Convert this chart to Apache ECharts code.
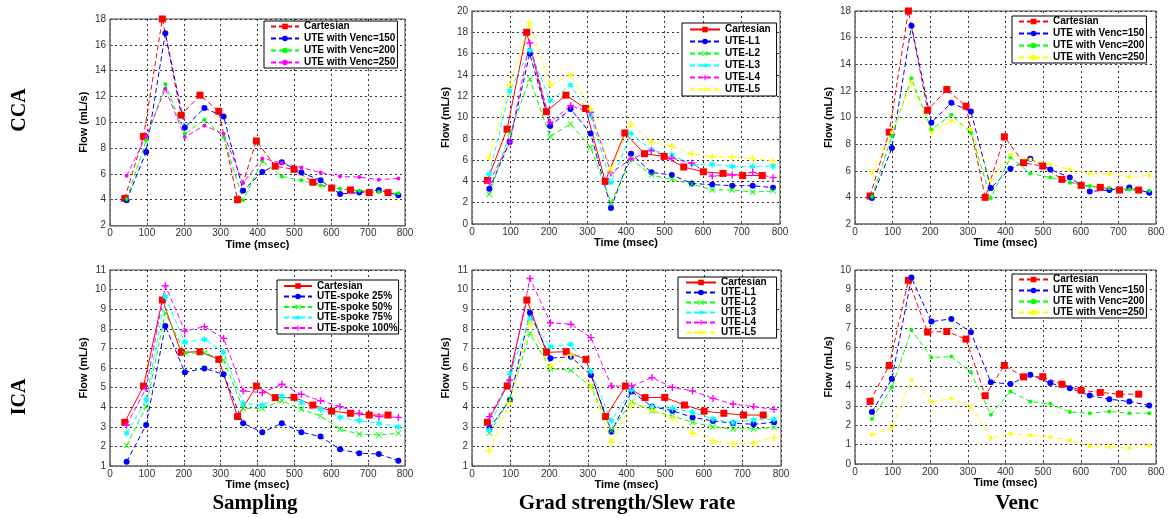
<!DOCTYPE html>
<html><head><meta charset="utf-8">
<script src="https://cdn.jsdelivr.net/npm/echarts@6/dist/echarts.min.js"></script>
<style>html,body{margin:0;padding:0;background:#fff}#c{width:1171px;height:518px}</style>
</head><body><div id="c"></div>
<script>
// ---------- data ----------
const timeRange = [0, 800, 100];
const cartesianTime = [40,91,142,193,244,295,346,397,448,499,550,601,652,703,754];
const uteTime = [45,98,150,203,256,308,361,413,466,519,571,624,676,729,782];

const ccaCartesian = [4.1,8.9,18.0,10.55,12.1,10.85,4.0,8.55,6.6,6.35,5.35,4.9,4.75,4.55,4.55];
const ccaVenc150 = [3.95,7.7,16.9,9.6,11.1,10.45,4.7,6.15,6.9,6.1,5.5,4.45,4.55,4.75,4.35];
const ccaVenc200 = [4.05,8.6,12.95,9.1,10.2,8.85,3.95,7.0,5.8,5.5,5.1,4.85,4.7,4.6,4.5];
const ccaVenc250 = [5.85,8.9,12.6,8.85,9.75,9.1,5.3,7.2,6.85,6.5,6.1,5.8,5.75,5.55,5.65];
const ccaL1 = [3.3,7.7,16.0,9.2,10.8,8.5,1.5,6.6,4.85,4.6,3.8,3.7,3.6,3.6,3.4];
const ccaL2 = [2.8,8.5,13.6,8.2,9.4,7.2,2.0,6.1,4.6,4.2,3.75,3.2,3.2,3.0,3.1];
const ccaL3 = [4.7,12.5,16.3,11.6,13.05,10.2,3.9,8.5,6.95,6.5,5.6,5.6,5.4,5.4,5.45];
const ccaL4 = [3.95,7.7,17.0,9.55,11.1,10.5,4.8,6.1,6.9,6.2,5.7,4.5,4.6,4.85,4.35];
const ccaL5 = [6.25,13.05,18.9,13.05,14.0,10.8,5.1,9.4,7.7,7.3,6.6,6.3,6.3,6.15,5.95];

const icaCartesian = [3.23,5.08,9.47,6.8,6.83,6.44,3.52,5.08,4.49,4.5,4.11,3.8,3.69,3.6,3.6];
const icaSpoke25 = [1.22,3.09,8.14,5.78,5.98,5.68,3.18,2.72,3.18,2.72,2.5,1.85,1.65,1.61,1.27];
const icaSpoke50 = [2.04,4.03,8.82,6.75,6.78,6.4,3.94,3.94,4.33,3.89,3.55,2.87,2.63,2.58,2.67];
const icaSpoke75 = [2.67,4.37,9.64,7.31,7.46,6.8,4.2,4.11,4.57,4.23,3.9,3.48,3.31,3.18,3.0];
const icaSpoke100 = [3.09,4.96,10.2,7.89,8.11,7.51,4.83,4.74,5.17,4.66,4.33,4.03,3.69,3.52,3.48];
const icaL1 = [2.92,4.37,8.82,6.5,6.58,5.64,2.75,4.8,4.03,3.82,3.48,3.3,3.18,3.13,3.23];
const icaL2 = [2.67,4.42,7.77,5.98,5.88,5.05,2.8,4.28,3.81,3.55,3.23,3.0,2.89,2.89,2.97];
const icaL3 = [2.84,5.73,8.48,7.09,7.21,5.81,3.31,4.88,4.03,3.94,3.74,3.4,3.21,3.35,3.38];
const icaL4 = [3.52,5.39,10.57,8.31,8.23,7.55,5.08,5.08,5.51,5.01,4.83,4.45,4.16,4.03,3.89];
const icaL5 = [1.78,4.23,8.28,6.07,6.66,5.05,2.21,4.16,3.86,3.43,2.67,2.29,2.12,2.16,2.45];
const icaVenc150 = [2.68,4.39,9.61,7.34,7.48,6.79,4.22,4.12,4.6,4.17,3.91,3.53,3.34,3.22,3.02];
const icaVenc200 = [2.32,3.95,6.91,5.49,5.54,4.73,2.54,3.74,3.22,3.1,2.68,2.62,2.71,2.62,2.62];
const icaVenc250 = [1.51,1.85,4.34,3.22,3.36,2.97,1.34,1.56,1.48,1.39,1.22,0.91,0.87,0.82,0.94];

const yRanges = [[2,18,2],[0,20,2],[2,18,2],[1,11,1],[1,11,1],[0,10,1]];
const rowLabels = ['CCA','ICA'];
const colLabels = ['Sampling','Grad strength/Slew rate','Venc'];
const xAxisName = 'Time (msec)';
const yAxisName = 'Flow (mL/s)';

// ---------- styles ----------
const RED='#ff0000', BLUE='#0000ff', GREEN='#00ff00', MAG='#ff00ff', CYAN='#00ffff', YEL='#ffff00';
const PLUS='path://M4,0H6V4H10V6H6V10H4V6H0V4H4Z';
const CROSS='path://M1,0L5,4L9,0L10,1L6,5L10,9L9,10L5,6L1,10L0,9L4,5L0,1Z';
const STAR='path://M5,0L6.2,3L9.3,2.5L7.4,5L9.3,7.5L6.2,7L5,10L3.8,7L0.7,7.5L2.6,5L0.7,2.5L3.8,3Z';
const sq = {symbol:'rect', size:7}, ci = {symbol:'circle', size:6}, dot = {symbol:'circle', size:4},
      cr = {symbol:CROSS, size:6}, st = {symbol:STAR, size:8}, pl = {symbol:PLUS, size:7};

function S(name, x, y, color, mk, dashed){ return {name, x, y, color, mk, dashed}; }

const panels = [
 {grid:[110,19,295,206.5], legend:{left:264, top:21, lh:11, gap:1, pad:[0,2,0,6], iw:28},
  series:[S('Cartesian',cartesianTime,ccaCartesian,RED,sq,true), S('UTE with Venc=150',uteTime,ccaVenc150,BLUE,ci,true),
          S('UTE with Venc=200',uteTime,ccaVenc200,GREEN,dot,true), S('UTE with Venc=250',uteTime,ccaVenc250,MAG,dot,true)]},
 {grid:[472,11,308,213], legend:{left:682, top:23, lh:11, gap:1, pad:[1,6,1,7], iw:30},
  series:[S('Cartesian',cartesianTime,ccaCartesian,RED,sq,false), S('UTE-L1',uteTime,ccaL1,BLUE,ci,true),
          S('UTE-L2',uteTime,ccaL2,GREEN,cr,true), S('UTE-L3',uteTime,ccaL3,CYAN,st,true),
          S('UTE-L4',uteTime,ccaL4,MAG,pl,true), S('UTE-L5',uteTime,ccaL5,YEL,pl,true)]},
 {grid:[855,11,301,213], legend:{left:1012, top:16, lh:11, gap:1, pad:[0,2,0,6], iw:29},
  series:[S('Cartesian',cartesianTime,ccaCartesian,RED,sq,true), S('UTE with Venc=150',uteTime,ccaVenc150,BLUE,ci,true),
          S('UTE with Venc=200',uteTime,ccaVenc200,GREEN,dot,true), S('UTE with Venc=250',uteTime,ccaVenc250,YEL,dot,true)]},
 {grid:[110,270,295,196], legend:{left:277, top:280, lh:10, gap:0.5, pad:[1,1,1,6], iw:28},
  series:[S('Cartesian',cartesianTime,icaCartesian,RED,sq,false), S('UTE-spoke 25%',uteTime,icaSpoke25,BLUE,ci,true),
          S('UTE-spoke 50%',uteTime,icaSpoke50,GREEN,cr,true), S('UTE-spoke 75%',uteTime,icaSpoke75,CYAN,st,true),
          S('UTE-spoke 100%',uteTime,icaSpoke100,MAG,pl,true)]},
 {grid:[472,270,309,196], legend:{left:678, top:277, lh:10, gap:0, pad:[0.5,10,0.5,7], iw:30},
  series:[S('Cartesian',cartesianTime,icaCartesian,RED,sq,false), S('UTE-L1',uteTime,icaL1,BLUE,ci,true),
          S('UTE-L2',uteTime,icaL2,GREEN,cr,true), S('UTE-L3',uteTime,icaL3,CYAN,st,true),
          S('UTE-L4',uteTime,icaL4,MAG,pl,true), S('UTE-L5',uteTime,icaL5,YEL,pl,true)]},
 {grid:[855,270,301,194], legend:{left:1012, top:274, lh:10, gap:1, pad:[0.5,2,0.5,6], iw:29},
  series:[S('Cartesian',cartesianTime,icaCartesian,RED,sq,true), S('UTE with Venc=150',uteTime,icaVenc150,BLUE,ci,true),
          S('UTE with Venc=200',uteTime,icaVenc200,GREEN,dot,true), S('UTE with Venc=250',uteTime,icaVenc250,YEL,dot,true)]}
];

const FONT = 'Liberation Sans, Arial, sans-serif';
const grids=[], xAxes=[], yAxes=[], legends=[], series=[];
panels.forEach((p,i)=>{
  const [l,t,w,h] = p.grid;
  grids.push({left:l, top:t, width:w, height:h, show:true, borderColor:'#444', borderWidth:1, backgroundColor:'transparent', containLabel:false, outerBoundsMode:'none'});
  xAxes.push({type:'value', gridIndex:i, min:timeRange[0], max:timeRange[1], interval:timeRange[2],
    name:xAxisName, nameLocation:'middle', nameGap:11,
    nameTextStyle:{fontFamily:FONT, fontSize:11, fontWeight:'bold', color:'#000'},
    axisLine:{show:true, onZero:false, lineStyle:{color:'#808080', width:1.5}},
    axisTick:{show:true, inside:true, length:3, lineStyle:{color:'#555'}},
    axisLabel:{fontFamily:FONT, fontSize:10, color:'#333', margin:3, showMinLabel:true, showMaxLabel:true, hideOverlap:false},
    splitLine:{show:true, lineStyle:{color:'#333', type:[2,3], width:1}}});
  const [ymin,ymax,yint] = yRanges[i];
  yAxes.push({type:'value', gridIndex:i, min:ymin, max:ymax, interval:yint,
    name:yAxisName, nameLocation:'middle', nameGap:21,
    nameTextStyle:{fontFamily:FONT, fontSize:11, fontWeight:'bold', color:'#000'},
    axisLine:{show:true, onZero:false, lineStyle:{color:'#808080', width:1.5}},
    axisTick:{show:true, inside:true, length:3, lineStyle:{color:'#555'}},
    axisLabel:{fontFamily:FONT, fontSize:10, color:'#333', margin:4, showMinLabel:true, showMaxLabel:true, hideOverlap:false},
    splitLine:{show:true, lineStyle:{color:'#333', type:[2,3], width:1}}});
  const names = [];
  p.series.forEach(s=>{
    const nm = 'p'+i+'|'+s.name;
    names.push(nm);
    series.push({type:'line', name:nm, xAxisIndex:i, yAxisIndex:i,
      data:s.x.map((t,k)=>[t, s.y[k]]),
      symbol:s.mk.symbol, symbolSize:s.mk.size, symbolKeepAspect:true, showAllSymbol:true,
      lineStyle:{color:s.color, width:1, type:s.dashed?[5,3]:'solid'},
      itemStyle:{color:s.color, borderWidth:0},
      emphasis:{disabled:true}, animation:false});
  });
  const lg = p.legend;
  legends.push({data:names, orient:'vertical', left:lg.left, top:lg.top, padding:lg.pad, itemGap:lg.gap,
    itemWidth:lg.iw, itemHeight:7, backgroundColor:'#fff', borderColor:'#000', borderWidth:1, borderRadius:0,
    selectedMode:false, formatter:n=>n.split('|')[1],
    textStyle:{fontFamily:FONT, fontSize:10, fontWeight:'bold', color:'#000', lineHeight:lg.lh, padding:0}});
});

const graphics = [];
const rowY = [110, 397];
rowLabels.forEach((t,i)=>graphics.push({type:'text', x:20, y:rowY[i], rotation:Math.PI/2,
  style:{text:t, font:'bold 20px "Liberation Serif", "Times New Roman", serif', fill:'#000',
         textAlign:'center', textVerticalAlign:'middle', align:'center', verticalAlign:'middle'}}));
const colX = [255, 627, 1017];
colLabels.forEach((t,i)=>graphics.push({type:'text', x:colX[i], y:504,
  style:{text:t, font:'bold 21px "Liberation Serif", "Times New Roman", serif', fill:'#000',
         textAlign:'center', textVerticalAlign:'middle', align:'center', verticalAlign:'middle'}}));

const chart = echarts.init(document.getElementById('c'), null, {renderer:'canvas'});
chart.setOption({animation:false, backgroundColor:'#fff', grid:grids, xAxis:xAxes, yAxis:yAxes,
  legend:legends, series:series, graphic:graphics});
</script></body></html>
